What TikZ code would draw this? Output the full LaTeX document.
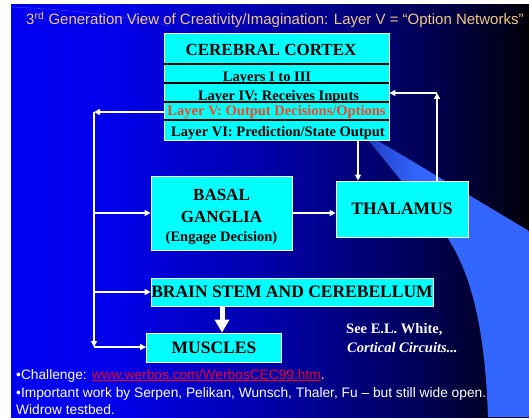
\documentclass[tikz,border=0pt]{standalone}
\usepackage{fontspec}
\setmainfont{Liberation Serif}
\setsansfont{Liberation Sans}
\usetikzlibrary{arrows.meta}
\definecolor{cyanbox}{RGB}{0,255,255}
\definecolor{titletan}{RGB}{242,200,135}
\definecolor{layerred}{RGB}{255,66,34}
\definecolor{linkred}{RGB}{230,0,40}
\pgfdeclarehorizontalshading{slidebg}{100bp}{rgb(0bp)=(0,0,0.95); rgb(25bp)=(0,0,0.95); rgb(35bp)=(0,0,0.92); rgb(52bp)=(0,0,0.62); rgb(65bp)=(0,0,0.33); rgb(75bp)=(0,0,0.03); rgb(100bp)=(0,0,0.03)}
\pgfdeclarehorizontalshading{beamsh}{100bp}{rgb(0bp)=(0.12,0.22,0.72); rgb(25bp)=(0.12,0.22,0.72); rgb(42bp)=(0.2,0.4,1); rgb(100bp)=(0.2,0.4,1)}
\tikzset{
  box/.style={draw=white, line width=0.8pt, fill=cyanbox, inner sep=0pt},
  boxtxt/.style={font=\fontsize{17.5}{20}\selectfont\bfseries, text=black},
  layertxt/.style={font=\fontsize{14.5}{17}\selectfont\bfseries, text=black, anchor=base, inner sep=0pt},
  bigtxt/.style={font=\fontsize{17}{20}\selectfont\bfseries, text=black, anchor=base, inner sep=0pt},
  conn/.style={draw=white, line width=1.5pt, -{Triangle[length=6pt,width=6pt]}},
  bigarrow/.style={draw=white, line width=5pt, -{Triangle[length=13pt,width=14pt]}},
  bottomtxt/.style={font=\sffamily\fontsize{13.75}{17}\selectfont, text=white, anchor=base west, inner sep=0pt},
  notetxt/.style={font=\fontsize{14.5}{17}\selectfont\bfseries, text=white, anchor=base west, inner sep=0pt}
}
\begin{document}
\begin{tikzpicture}[x=1pt,y=-1pt]
\useasboundingbox (0,0) rectangle (529,417);
\fill[white] (0,0) rectangle (529,417);
\shade[shading=slidebg] (11,5) rectangle (529,417);
\shade[shading=beamsh] (360,130) -- (529,231) -- (529,417) -- (488,417) .. controls (485,330) and (472,275) .. (447,237) -- cycle;
\draw[blue!55!white, opacity=0.45, line width=0.6pt] (11,7) .. controls (60,9) and (120,15) .. (170,26);

% title
\node[anchor=base west, inner sep=0pt, font=\sffamily\fontsize{15}{18}\selectfont, text=titletan] (title) at (26,25) {3\textsuperscript{rd} Generation View of Creativity/Imagination: Layer V = “Option Networks”};

% cerebral cortex
\node[box, minimum width=225pt, minimum height=107pt] (cortex) at (276.5,86.5) {};
\draw[black, line width=1.8pt] ([xshift=0.4pt]cortex.west |- 0,64) -- ([xshift=-0.4pt]cortex.east |- 0,64);
\draw[black, line width=1.1pt] ([xshift=0.4pt]cortex.west |- 0,83) -- ([xshift=-0.4pt]cortex.east |- 0,83);
\draw[black, line width=1.1pt] ([xshift=0.4pt]cortex.west |- 0,102) -- ([xshift=-0.4pt]cortex.east |- 0,102);
\draw[black, line width=1.1pt] ([xshift=0.4pt]cortex.west |- 0,120) -- ([xshift=-0.4pt]cortex.east |- 0,120);
\node[bigtxt] (cc) at (271,56) {CEREBRAL CORTEX};
\node[layertxt] (l13) at (267,82) {Layers I to III};
\node[layertxt] (l4) at (278.5,100.5) {Layer IV: Receives Inputs};
\node[layertxt, text=layerred] (l5) at (276.5,115) {Layer V: Output Decisions/Options};
\node[layertxt] (l6) at (278,136.5) {Layer VI: Prediction/State Output};

% basal ganglia
\node[box, minimum width=141pt, minimum height=74pt] (basal) at (221.5,213) {};
\node[bigtxt] (bg1) at (221.5,200.5) {BASAL};
\node[bigtxt] (bg2) at (221.5,222) {GANGLIA};
\node[layertxt] (bg3) at (221.5,241) {(Engage Decision)};

% thalamus
\node[box, boxtxt, minimum width=132pt, minimum height=56pt] (thal) at (402,209) {THALAMUS};

% brain stem
\node[box, boxtxt, minimum width=282pt, minimum height=28pt] (brain) at (292,292) {BRAIN STEM AND CEREBELLUM};

% muscles
\node[box, boxtxt, minimum width=135pt, minimum height=29pt] (musc) at (214,347.5) {MUSCLES};

% notes
\node[notetxt] (see) at (346,333) {See E.L. White,};
\node[notetxt, font=\fontsize{14.5}{17}\selectfont\bfseries\itshape] (circ) at (347,352) {Cortical Circuits...};

% connectors
\coordinate (busTop) at (94,112);
\coordinate (busBot) at (94,347);
\coordinate (ctxX) at (358,0);
\coordinate (up) at (437,93);
\coordinate (bmX) at (222,0);
\draw[conn] (cortex.west |- busTop) -- (busTop);
\draw[conn] (busTop) -- (busBot);
\draw[conn] (busTop |- basal.west) -- (basal.west);
\draw[conn] (busTop |- brain.west) -- (brain.west);
\draw[conn] (busBot) -- (busBot -| musc.west);
\draw[conn] (basal.east) -- (basal.east -| thal.west);
\draw[conn] (cortex.south -| ctxX) -- (thal.north -| ctxX);
\draw[conn] (thal.north -| up) -- (up);
\draw[conn] (up) -- (up -| cortex.east);
\draw[bigarrow] (brain.south -| bmX) -- (musc.north -| bmX);

% bottom text
\node[bottomtxt] (b1) at (16,379) {•Challenge: \textcolor{linkred}{\underline{www.werbos.com/WerbosCEC99.htm}}.};
\node[bottomtxt] (b2) at (16,397.5) {•Important work by Serpen, Pelikan, Wunsch, Thaler, Fu – but still wide open.};
\node[bottomtxt] (b3) at (16,414) {Widrow testbed.};
\end{tikzpicture}
\end{document}
